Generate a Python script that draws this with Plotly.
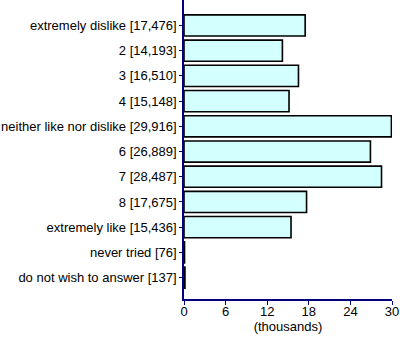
import plotly.graph_objects as go

# Survey responses per answer option
answers = [
    "extremely dislike", "2", "3", "4", "neither like nor dislike",
    "6", "7", "8", "extremely like", "never tried", "do not wish to answer",
]
counts = [17476, 14193, 16510, 15148, 29916, 26889, 28487, 17675, 15436, 76, 137]
x_ticks = [0, 6, 12, 18, 24, 30]

labels = [f"{a} [{c:,}]" for a, c in zip(answers, counts)]
thousands = [c / 1000 for c in counts]

NAVY = "#000080"
FONT = dict(family="Liberation Sans, Arial, sans-serif", size=13, color="black")

fig = go.Figure(
    go.Bar(
        x=thousands,
        y=labels,
        orientation="h",
        marker=dict(color="#d4ffff", line=dict(color="black", width=1.6)),
        width=0.84,
        hoverinfo="skip",
    )
)

fig.update_layout(
    width=400,
    height=342,
    margin=dict(l=184, r=8, t=0, b=43),
    paper_bgcolor="white",
    plot_bgcolor="white",
    font=FONT,
    showlegend=False,
    bargap=0.16,
)

fig.update_xaxes(
    range=[0, 30],
    tickvals=x_ticks,
    ticktext=[str(v) for v in x_ticks],
    showgrid=False,
    zeroline=False,
    showline=True,
    linecolor=NAVY,
    linewidth=1.5,
    ticks="outside",
    ticklen=4,
    tickcolor=NAVY,
    tickfont=FONT,
    ticklabelstandoff=-4,
    title=dict(text="(thousands)", font=FONT, standoff=0),
)

fig.update_yaxes(
    type="category",
    categoryorder="array",
    categoryarray=labels,
    range=[10.85, -1.01],
    showgrid=False,
    zeroline=False,
    showline=True,
    linecolor=NAVY,
    linewidth=1.5,
    ticks="outside",
    ticklen=3,
    tickcolor=NAVY,
    tickfont=FONT,
)

fig.write_html("out.html")
